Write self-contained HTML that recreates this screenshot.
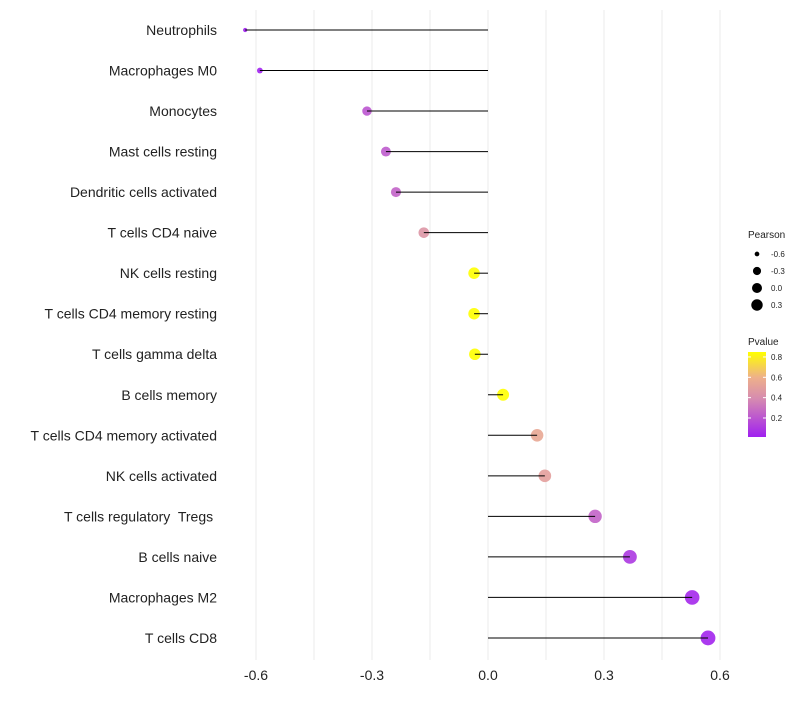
<!DOCTYPE html>
<html><head><meta charset="utf-8"><style>
body{margin:0;background:#fff;font-family:"Liberation Sans",sans-serif}
text{white-space:pre}
</style></head><body>
<svg id="c" width="800" height="700" xmlns="http://www.w3.org/2000/svg">
<defs><linearGradient id="pg" x1="0" y1="1" x2="0" y2="0">
<stop offset="0" stop-color="#a020f0"/><stop offset="0.45" stop-color="#d68bb0"/><stop offset="0.7" stop-color="#eeb08a"/><stop offset="1" stop-color="#ffff00"/></linearGradient></defs>
</svg>
<script>
const categories=["Neutrophils","Macrophages M0","Monocytes","Mast cells resting","Dendritic cells activated","T cells CD4 naive","NK cells resting","T cells CD4 memory resting","T cells gamma delta","B cells memory","T cells CD4 memory activated","NK cells activated","T cells regulatory  Tregs ","B cells naive","Macrophages M2","T cells CD8"];
const pearson=[-0.628,-0.59,-0.313,-0.264,-0.238,-0.166,-0.036,-0.036,-0.034,0.039,0.127,0.147,0.277,0.367,0.528,0.569];
const pvalue=[0.01,0.02,0.2,0.22,0.25,0.45,0.85,0.86,0.86,0.85,0.55,0.5,0.25,0.1,0.04,0.03];
const xticks=[-0.6,-0.3,0.0,0.3,0.6];
const legendSizes=[-0.6,-0.3,0.0,0.3];
const legendP=[0.8,0.6,0.4,0.2];
const svg=document.getElementById('c');const NS="http://www.w3.org/2000/svg";
const x=v=>488+v*386.67;const y=i=>30+i*40.53;
const r=v=>1.9+5.5*Math.sqrt(Math.max(0,(v+0.63)/1.2));
function col(p){const t=Math.max(0,Math.min(1,(p-0.013)/(0.85-0.013)));
const st=[[0,[160,32,240]],[0.45,[214,139,176]],[0.7,[238,176,138]],[1,[255,255,0]]];
for(let k=1;k<st.length;k++){if(t<=st[k][0]){const a=st[k-1],b=st[k],f=(t-a[0])/(b[0]-a[0]);return 'rgb('+a[1].map((c,j)=>Math.round(c+(b[1][j]-c)*f)).join(',')+')';}}return 'rgb(255,255,0)';}
function mk(tag,at,txt){const e=document.createElementNS(NS,tag);for(const k in at)e.setAttribute(k,at[k]);if(txt!=null)e.textContent=txt;svg.appendChild(e);return e;}
for(let v=-0.6;v<=0.61;v+=0.15){const g=mk('line',{x1:x(v),x2:x(v),y1:10,y2:660,stroke:'#ebebeb','stroke-width':1});

}
xticks.forEach(t=>{const e=mk('text',{x:x(t),y:680,'text-anchor':'middle','font-size':14,fill:'#222'},t.toFixed(1));

});
categories.forEach((c,i)=>{
const l=mk('text',{x:217,y:y(i)+5,'text-anchor':'end','font-size':14,fill:'#222'},c);


const d=mk('circle',{cx:x(pearson[i]),cy:y(i),r:r(pearson[i]),fill:col(pvalue[i]),'fill-opacity':0.9});


const s=mk('line',{x1:x(0),x2:x(pearson[i]),y1:y(i),y2:y(i),stroke:'#000','stroke-width':1});

});
let t=mk('text',{x:748,y:238,'font-size':10,fill:'#222'},'Pearson');


legendSizes.forEach((v,i)=>{const cy=254+i*17;
const c=mk('circle',{cx:757,cy:cy,r:r(v)*0.85,fill:'#000'});


const tx=mk('text',{x:771,y:cy+3,'font-size':8,fill:'#222'},v.toFixed(1));

});
t=mk('text',{x:748,y:345,'font-size':10,fill:'#222'},'Pvalue');


const bar=mk('rect',{x:748,y:352,width:18,height:85,fill:'url(#pg)'});


legendP.forEach(p=>{const yy=437-(p-0.013)*101.7;
const tx=mk('text',{x:771,y:yy+3,'font-size':8,fill:'#222'},p.toFixed(1));


mk('line',{x1:748,x2:751,y1:yy,y2:yy,stroke:'#fff'});mk('line',{x1:763,x2:766,y1:yy,y2:yy,stroke:'#fff'});});
</script>
</body></html>
